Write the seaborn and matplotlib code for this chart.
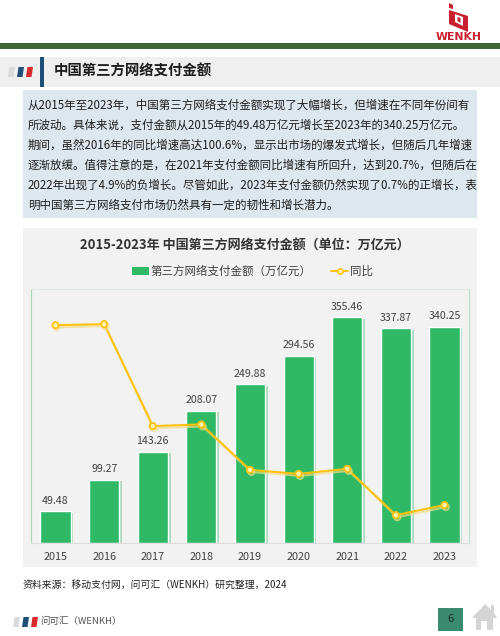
import matplotlib
matplotlib.use('Agg')
import matplotlib.pyplot as plt
import matplotlib.patheffects as pe
from matplotlib.lines import Line2D
from matplotlib.patches import Patch, Polygon, Rectangle
import pandas as pd
import seaborn as sns

years = ['2015', '2016', '2017', '2018', '2019', '2020', '2021', '2022', '2023']
amount = [49.48, 99.27, 143.26, 208.07, 249.88, 294.56, 355.46, 337.87, 340.25]
yoy = [100.0, 100.6, 44.3, 45.2, 20.1, 17.9, 20.7, -4.9, 0.7]

page_title = '中国第三方网络支付金额'
chart_title = '2015-2023年 中国第三方网络支付金额（单位：万亿元）'
bar_name = '第三方网络支付金额（万亿元）'
line_name = '同比'
source = '资料来源：移动支付网，问可汇（WENKH）研究整理，2024'
footer = '问可汇（WENKH）'
body = [
    '从2015年至2023年，中国第三方网络支付金额实现了大幅增长，但增速在不同年份间有',
    '所波动。具体来说，支付金额从2015年的49.48万亿元增长至2023年的340.25万亿元。',
    '期间，虽然2016年的同比增速高达100.6%，显示出市场的爆发式增长，但随后几年增速',
    '逐渐放缓。值得注意的是，在2021年支付金额同比增速有所回升，达到20.7%，但随后在',
    '2022年出现了4.9%的负增长。尽管如此，2023年支付金额仍然实现了0.7%的正增长，表',
    '明中国第三方网络支付市场仍然具有一定的韧性和增长潜力。',
]

GREEN = '#2FB964'
YELLOW = '#FFC20E'
W, H = 500, 636

sns.set_theme(style='white')
plt.rcParams['font.family'] = ['Noto Sans CJK SC', 'DejaVu Sans']

fig = plt.figure(figsize=(W / 100, H / 100), dpi=100)

# page furniture, drawn in pixel coordinates
bg = fig.add_axes([0, 0, 1, 1])
bg.set_xlim(0, W)
bg.set_ylim(H, 0)
bg.axis('off')


def box(x0, y0, x1, y1, color):
    bg.add_patch(Rectangle((x0, y0), x1 - x0, y1 - y0, color=color, lw=0))


def flag(x, y, h):
    for dx, c in zip((0, 9, 18), ('#D9DADB', '#1F4E79', '#D92B2B')):
        bg.add_patch(Polygon([(x + dx + 1.5, y), (x + dx + 7, y), (x + dx + 5.5, y + h), (x + dx, y + h)], color=c, lw=0))


box(0, 43, W, 48.5, '#3F6530')
box(0, 57, W, 87, '#EFEFEF')
box(40, 57, 43.5, 87, '#1F4E79')
flag(8, 67, 10)
bg.text(54, 71.5, page_title, fontsize=10.4, fontweight='bold', color='#1C1C1C', ha='left', va='center')

# logo
bg.add_patch(Polygon([(449, 3), (453, 5), (453, 9), (449, 8)], color='#C8202F', lw=0))
bg.add_patch(Polygon([(449, 10), (468, 16), (468, 32), (449, 24)], color='#C8202F', lw=0))
bg.add_patch(Polygon([(455, 14), (463, 17), (463, 26), (455, 22)], color='white', lw=0))
bg.add_patch(Polygon([(457.5, 17), (460.5, 18), (460.5, 23), (457.5, 21)], color='#C8202F', lw=0))
bg.text(459, 37.5, 'WENKH', fontsize=7.8, fontweight='bold', color='#C8202F', ha='center', va='center', family='DejaVu Sans')

# summary text
box(23, 90, 477, 218, '#DCE8EE')
for i, line in enumerate(body):
    bg.text(28, 105 + i * 20, line, fontsize=8.3, color='#1E1E1E', ha='left', va='center')

# chart panel
box(23, 228, 477, 567, '#F2F2F2')
bg.text(245, 245.5, chart_title, fontsize=9.4, fontweight='bold', color='#333333', ha='center', va='center')

df = pd.DataFrame({'year': years, 'amount': amount, 'yoy': yoy})

ax = fig.add_axes([31.2 / W, 1 - 542.5 / H, (468.8 - 31.2) / W, (542.5 - 289) / H])
ax.patch.set_alpha(0)
sns.barplot(data=df, x='year', y='amount', color=GREEN, saturation=1, width=0.62, ax=ax)
shadow = pe.SimplePatchShadow(offset=(2, -1), shadow_rgbFace='#7FCB98', alpha=0.6)
for bar in ax.patches:
    bar.set_path_effects([shadow, pe.Normal()])
ax.bar_label(ax.containers[0], labels=[f'{v:.2f}' for v in amount], padding=4, fontsize=7.6, color='#404040')
ax.set_ylim(0, 400)
ax.set_xlim(-0.5, 8.5)
ax.set_xlabel('')
ax.set_ylabel('')
ax.set_yticks([])
ax.tick_params(axis='x', length=0, pad=7, labelsize=7.8, labelcolor='#404040')
ax.spines['left'].set_color('#A9D9B8')
ax.spines['right'].set_color('#BFDCC8')
ax.spines['top'].set_color('#E2EAE4')
ax.spines['bottom'].set_color('#DDDDDD')
for s in ax.spines.values():
    s.set_linewidth(0.8)

ax2 = ax.twinx()
sns.lineplot(data=df, x='year', y='yoy', color=YELLOW, linewidth=1.5, sort=False, marker='o', markersize=4.5,
             markerfacecolor='#FFF3B0', markeredgecolor=YELLOW, markeredgewidth=1.3, ax=ax2,
             path_effects=[pe.SimpleLineShadow(offset=(1, -1.5), shadow_color='#F5DE8A', alpha=0.7), pe.Normal()])
ax2.set_ylim(-20, 120)
ax2.set_ylabel('')
ax2.set_yticks([])
for s in ax2.spines.values():
    s.set_visible(False)

handles = [
    Patch(facecolor=GREEN, edgecolor='none', label=bar_name),
    Line2D([], [], color=YELLOW, lw=1.4, marker='o', markersize=3.8, markerfacecolor='#FFF3B0',
           markeredgecolor=YELLOW, markeredgewidth=1.1, label=line_name),
]
fig.legend(handles=handles, loc='center', bbox_to_anchor=(252.5 / W, 1 - 271.5 / H), ncol=2, frameon=False,
           fontsize=8.25, labelcolor='#404040', handlelength=1.45, handletextpad=0.15, columnspacing=1.7,
           handleheight=0.6, borderpad=0)

# footer
bg.text(23, 585, source, fontsize=7.1, style='italic', color='#222222', ha='left', va='center')
flag(13, 617, 10)
bg.text(40, 621, footer, fontsize=6.8, color='#555555', ha='left', va='center')
box(438, 608, 463, 630.5, '#3A8A70')
bg.text(450.5, 619.5, '6', fontsize=8, color='#1F2F2A', ha='center', va='center')
bg.add_patch(Polygon([(472, 618), (485, 604), (491, 610), (491, 605), (494, 605), (494, 613), (497, 618), (493, 618),
                      (493, 630), (487, 630), (487, 621), (481, 621), (481, 630), (476, 630), (476, 618)],
                     color='#D4D4D4', lw=0))

fig.savefig('out.png', dpi=100)
